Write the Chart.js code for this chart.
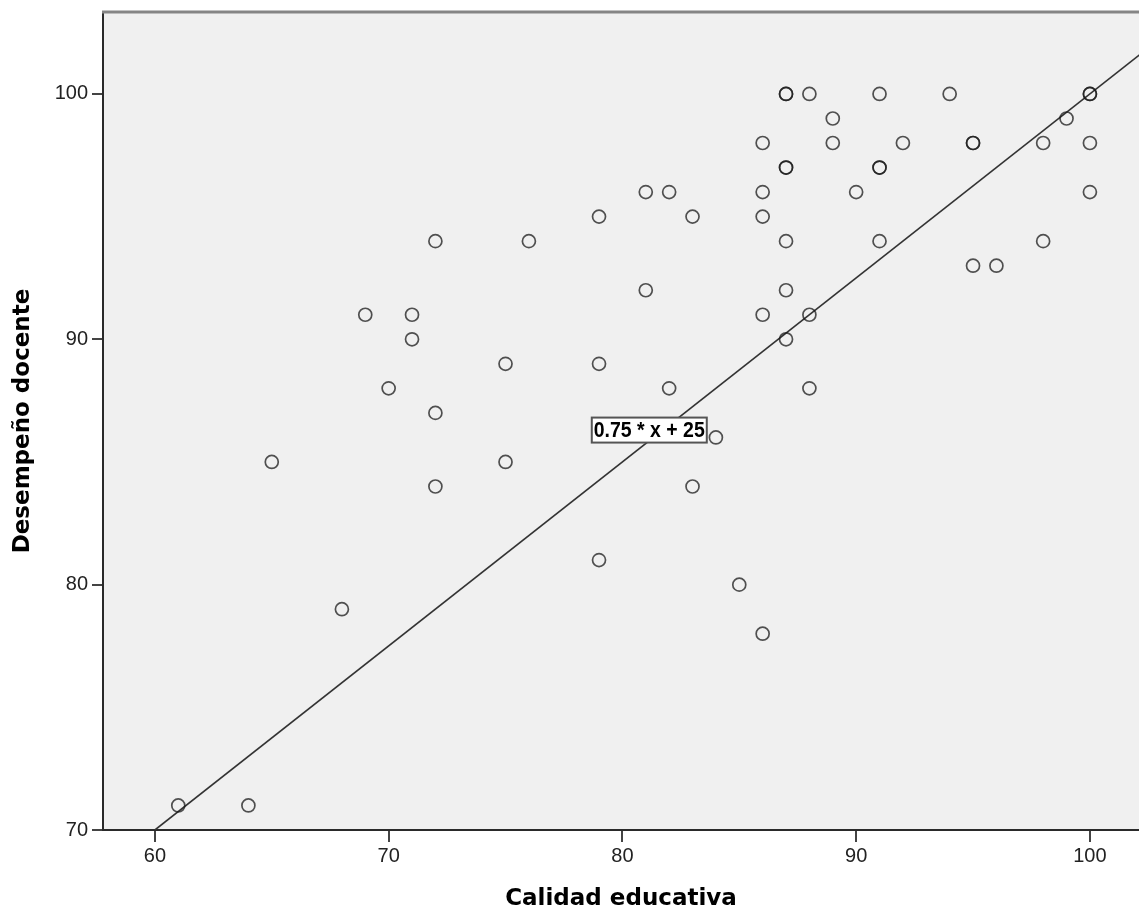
<!DOCTYPE html>
<html>
<head>
<meta charset="utf-8">
<script src="https://cdn.jsdelivr.net/npm/chart.js@4.4.1/dist/chart.umd.min.js"></script>
<style>
  html, body { margin: 0; padding: 0; background: #ffffff; overflow: hidden; }
  #wrap { width: 1139px; height: 913px; overflow: hidden; }
  canvas { display: block; }
</style>
</head>
<body>
<div id="wrap"><canvas id="c" width="1139" height="913"></canvas></div>
<script>
// Calidad educativa (x) and Desempeño docente (y), one entry per respondent
const calidad = [61, 64, 65, 68, 69, 70, 71, 71, 72, 72, 72, 75, 75, 76, 79, 79, 79,
  81, 81, 82, 82, 83, 83, 84, 85, 86, 86, 86, 86, 86, 87, 87, 87, 87, 87, 87, 87,
  88, 88, 88, 89, 89, 90, 91, 91, 91, 91, 92, 94, 95, 95, 95, 96, 98, 98, 99,
  100, 100, 100, 100];
const desempeno = [71, 71, 85, 79, 91, 88, 91, 90, 94, 87, 84, 89, 85, 94, 95, 89, 81,
  96, 92, 96, 88, 95, 84, 86, 80, 98, 96, 95, 91, 78, 100, 100, 97, 97, 94, 92, 90,
  100, 91, 88, 99, 98, 96, 100, 97, 97, 94, 98, 100, 98, 98, 93, 93, 98, 94, 99,
  100, 100, 98, 96];

// Fitted line (0.75 * x + 25) endpoints
const fitX = [60, 104];
const fitY = [70, 103];
const fitLabel = "0.75 * x + 25";

const xTicks = [60, 70, 80, 90, 100];
const yTicks = [70, 80, 90, 100];
const xTitle = "Calidad educativa";
const yTitle = "Desempeño docente";

const points = calidad.map((v, i) => ({ x: v, y: desempeno[i] }));
const linePts = fitX.map((v, i) => ({ x: v, y: fitY[i] }));

function noPad(s) {
  s.paddingTop = 0; s.paddingBottom = 0; s.paddingLeft = 0; s.paddingRight = 0;
}

const plotDeco = {
  id: 'plotDeco',
  beforeDraw(chart) {
    const { ctx, chartArea: a } = chart;
    ctx.save();
    ctx.fillStyle = '#f0f0f0';
    ctx.fillRect(a.left, a.top, a.right - a.left, a.bottom - a.top);
    ctx.restore();
  },
  afterDraw(chart, args, opts) {
    const { ctx, chartArea: a, scales } = chart;
    ctx.save();
    // top frame line
    ctx.strokeStyle = '#858585';
    ctx.lineWidth = 3;
    ctx.beginPath();
    ctx.moveTo(a.left - 1, a.top);
    ctx.lineTo(a.right, a.top);
    ctx.stroke();
    // equation label box
    const cx = scales.x.getPixelForValue(opts.at[0]);
    const cy = scales.y.getPixelForValue(opts.at[1]);
    const bw = 115, bh = 25;
    ctx.fillStyle = '#ffffff';
    ctx.fillRect(cx - bw / 2, cy - bh / 2, bw, bh);
    ctx.strokeStyle = '#555555';
    ctx.lineWidth = 2;
    ctx.strokeRect(cx - bw / 2, cy - bh / 2, bw, bh);
    ctx.font = "bold 22px 'Liberation Sans Narrow', 'Liberation Sans', Arial, sans-serif";
    const w = ctx.measureText(fitLabel).width;
    const sx = Math.min(1, 111 / w);
    ctx.translate(cx, cy + 1);
    ctx.scale(sx, 1);
    ctx.fillStyle = '#000000';
    ctx.textAlign = 'center';
    ctx.textBaseline = 'middle';
    ctx.fillText(fitLabel, 0, 0);
    ctx.restore();
  }
};

new Chart(document.getElementById('c'), {
  type: 'scatter',
  data: {
    datasets: [
      {
        data: points,
        pointRadius: 6.5,
        pointHoverRadius: 6.5,
        pointBorderWidth: 1.7,
        pointBorderColor: 'rgba(25,25,25,0.75)',
        pointBackgroundColor: 'rgba(0,0,0,0)',
        showLine: false,
        order: 1
      },
      {
        type: 'line',
        data: linePts,
        borderColor: '#333333',
        borderWidth: 1.6,
        pointRadius: 0,
        fill: false,
        tension: 0,
        order: 2
      }
    ]
  },
  options: {
    responsive: false,
    animation: false,
    devicePixelRatio: 1,
    layout: { autoPadding: false, padding: { top: 12, right: 0, bottom: 0, left: 0 } },
    plugins: {
      legend: { display: false },
      tooltip: { enabled: false },
      plotDeco: { at: [81.15, 86.3] }
    },
    scales: {
      x: {
        type: 'linear',
        min: 57.78,
        max: 102.1,
        afterBuildTicks: (s) => { s.ticks = xTicks.map(v => ({ value: v })); },
        afterFit: (s) => { s.height = 83; noPad(s); },
        grid: { display: true, drawOnChartArea: false, drawTicks: true, tickLength: 12, color: '#444', lineWidth: 2, tickWidth: 2 },
        border: { display: true, color: '#2a2a2a', width: 2 },
        ticks: { color: '#222', padding: 2, font: { family: "'Liberation Sans', Arial, sans-serif", size: 20 }, maxRotation: 0 },
        title: { display: true, text: xTitle, color: '#000', padding: { top: 0, bottom: 2.5 }, font: { family: "'DejaVu Sans', sans-serif", size: 23, weight: 'bold', lineHeight: 1 } }
      },
      y: {
        type: 'linear',
        min: 70,
        max: 103.34,
        afterBuildTicks: (s) => { s.ticks = yTicks.map(v => ({ value: v })); },
        afterFit: (s) => { s.width = 103; noPad(s); },
        grid: { display: true, drawOnChartArea: false, drawTicks: true, tickLength: 11, color: '#444', lineWidth: 2, tickWidth: 2 },
        border: { display: true, color: '#2a2a2a', width: 2 },
        ticks: { color: '#222', padding: 4, font: { family: "'Liberation Sans', Arial, sans-serif", size: 20 } },
        title: { display: true, text: yTitle, color: '#000', padding: { top: 11.5, bottom: 0 }, font: { family: "'DejaVu Sans', sans-serif", size: 23, weight: 'bold', lineHeight: 1 } }
      }
    }
  },
  plugins: [plotDeco]
});
</script>
</body>
</html>
